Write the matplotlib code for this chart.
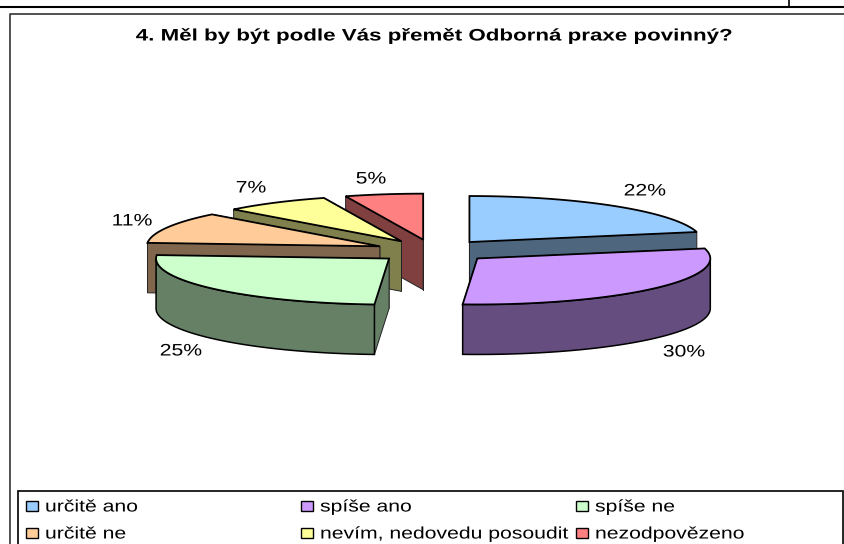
import numpy as np
import matplotlib
matplotlib.use('Agg')
import matplotlib.pyplot as plt
import matplotlib.patheffects as pe
from matplotlib.patches import Polygon, Rectangle
from matplotlib.transforms import Affine2D

plt.rcParams['font.family'] = ['Liberation Sans', 'DejaVu Sans']

title = '4. Měl by být podle Vás přemět Odborná praxe povinný?'
categories = ['určitě ano', 'spíše ano', 'spíše ne', 'určitě ne',
              'nevím, nedovedu posoudit', 'nezodpovězeno']
values = [21.5, 29.5, 25.2, 11.0, 7.4, 5.4]
colors = ['#99CCFF', '#CC99FF', '#CCFFCC', '#FFCC99', '#FFFF99', '#FF8080']
side_colors = ['#4F667F', '#664D80', '#668066', '#7F664D', '#80804D', '#804040']

# pie geometry, in pixels
cx, cy = 433, 251
rx, ry = 233, 46
depth = 50
explode = 0.25

# the axes is laid out in image pixels
fig = plt.figure(figsize=(8.45, 5.44), dpi=100)
ax = fig.add_axes([0, 0, 1, 1])
ax.set_xlim(0, 845)
ax.set_ylim(544, 0)
ax.axis('off')


class StretchX(pe.AbstractPathEffect):
    # the reference text is wider than any installed font, so widen the glyphs
    def __init__(self, sx, x):
        super().__init__()
        self.sx = sx
        self.x = x

    def draw_path(self, renderer, gc, tpath, affine, rgbFace=None):
        wide = affine + Affine2D().translate(-self.x, 0).scale(self.sx, 1).translate(self.x, 0)
        renderer.draw_path(gc, tpath, wide, rgbFace)


def wide_text(x, y, s, sx, **kw):
    t = ax.text(x, y, s, va='center', **kw)
    t.set_path_effects([StretchX(sx, x)])
    return t


def point(a, x0, y0):
    return x0 + rx * np.sin(a), y0 - ry * np.cos(a)


# slices run clockwise from 12 o'clock
edges = np.radians(np.cumsum([0] + values) / sum(values) * 360)

# back slices first, front ones over them
for i in [5, 4, 3, 0, 2, 1]:
    a0, a1 = edges[i], edges[i + 1]
    mid = (a0 + a1) / 2
    x0 = cx + explode * rx * np.sin(mid)
    y0 = cy - explode * ry * np.cos(mid)
    arc = np.linspace(a0, a1, 60)
    ax_, ay_ = point(arc, x0, y0)
    top = np.column_stack([np.r_[x0, ax_], np.r_[y0, ay_]])

    # the two cut faces, the hidden one first
    for a in (a1, a0):
        ex, ey = point(a, x0, y0)
        face = [(x0, y0), (ex, ey), (ex, ey + depth), (x0, y0 + depth)]
        ax.add_patch(Polygon(face, fc=side_colors[i], ec='#222222', lw=0.7))

    # outer rim, only the part that faces the front
    lo, hi = max(a0, np.pi / 2), min(a1, 3 * np.pi / 2)
    if hi > lo:
        rim = np.linspace(lo, hi, 60)
        rx_, ry_ = point(rim, x0, y0)
        pts = np.column_stack([np.r_[rx_, rx_[::-1]],
                               np.r_[ry_, ry_[::-1] + depth]])
        ax.add_patch(Polygon(pts, fc=side_colors[i], ec='black', lw=1.1))

    ax.add_patch(Polygon(top, fc=colors[i], ec='black', lw=1.3))

# percent labels
label_x = [645, 684, 181, 132, 251, 371]
label_y = [191, 352, 351, 221, 188, 179]
for v, x, y in zip(values, label_x, label_y):
    wide_text(x, y, f'{v:.0f}%', 1.27, fontsize=12, ha='center', color='black')

wide_text(433, 36, title, 1.34, fontsize=12, fontweight='bold', ha='center')

# page lines and chart frame
ax.plot([0, 845], [6.5, 6.5], color='black', lw=1.5)
ax.plot([789, 789], [0, 6], color='black', lw=1.2)
ax.plot([845, 10, 10], [14, 14, 544], color='#333333', lw=1.2)

# legend
ax.add_patch(Rectangle((18, 491), 825, 60, fc='white', ec='black', lw=1.2))
col_x = [26, 301, 576]
row_y = [506, 533]
for i, name in enumerate(categories):
    x = col_x[i % 3]
    y = row_y[i // 3]
    ax.add_patch(Rectangle((x, y - 5), 12, 10, fc=colors[i], ec='black', lw=1))
    wide_text(x + 19, y + 1, name, 1.27, fontsize=12, ha='left')

plt.savefig('out.png', dpi=100)
